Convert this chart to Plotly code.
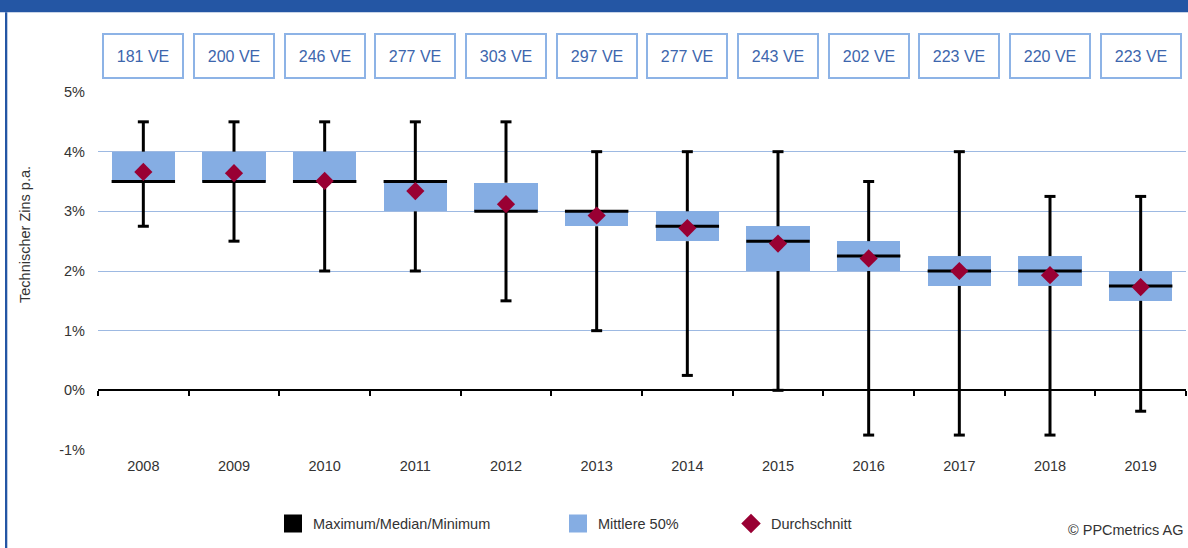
import plotly.graph_objects as go
import numpy as np

# ---------------- data ----------------
years = ["2008", "2009", "2010", "2011", "2012", "2013", "2014", "2015", "2016", "2017", "2018", "2019"]
n_ve = [181, 200, 246, 277, 303, 297, 277, 243, 202, 223, 220, 223]
maximum = [4.5, 4.5, 4.5, 4.5, 4.5, 4.0, 4.0, 4.0, 3.5, 4.0, 3.25, 3.25]
q3 = [4.0, 4.0, 4.0, 3.5, 3.48, 3.0, 3.0, 2.75, 2.5, 2.25, 2.25, 2.0]
median = [3.5, 3.5, 3.5, 3.5, 3.0, 3.0, 2.75, 2.5, 2.25, 2.0, 2.0, 1.75]
q1 = [3.5, 3.5, 3.5, 3.0, 3.0, 2.75, 2.5, 2.0, 2.0, 1.75, 1.75, 1.5]
minimum = [2.75, 2.5, 2.0, 2.0, 1.5, 1.0, 0.25, 0.0, -0.75, -0.75, -0.75, -0.35]
mean = [3.66, 3.64, 3.51, 3.34, 3.12, 2.93, 2.72, 2.46, 2.21, 2.0, 1.93, 1.73]
ytick_vals = [-1, 0, 1, 2, 3, 4, 5]
ytick_labels = ["-1%", "0%", "1%", "2%", "3%", "4%", "5%"]

# ---------------- style ----------------
W, H = 1188, 548
ML, MR, MT, MB = 98, 2, 92, 98
PW = W - ML - MR
PH = H - MT - MB
FONT = "Liberation Sans, Arial, sans-serif"
TXT = "#333333"
BOX = "#85ADE3"
DIAM = "#990033"
GRID = "#9DB9E2"
VE_BORDER = "#8DB3E6"
VE_TEXT = "#3D66AD"
BAR_BLUE = "#2456A4"
BOX_W = 0.7
LINE_EW_FACTOR = 1.4  # plotly draws line-ew markers 1.4 x size long


def px_x(px):
    return (px - ML) / PW


def px_y(py):
    return (H - MB - py) / PH


fig = go.Figure()

# middle 50 % boxes
fig.add_trace(go.Bar(
    x=years, y=[a - b for a, b in zip(q3, q1)], base=q1, width=BOX_W,
    marker=dict(color=BOX, line=dict(width=0)), showlegend=False, hoverinfo="skip"))

# whiskers (outside the box)
wx, wy = [], []
for yr, mx, hi, lo, mn in zip(years, maximum, q3, q1, minimum):
    wx += [yr, yr, None, yr, yr, None]
    wy += [hi, mx, None, lo, mn, None]
fig.add_trace(go.Scatter(x=wx, y=wy, mode="lines", line=dict(color="black", width=3),
                         showlegend=False, hoverinfo="skip"))

# whisker caps
fig.add_trace(go.Scatter(
    x=years + years, y=maximum + minimum, mode="markers",
    marker=dict(symbol="line-ew", size=11 / LINE_EW_FACTOR, line=dict(color="black", width=3)),
    showlegend=False, hoverinfo="skip"))

# medians
fig.add_trace(go.Scatter(
    x=years, y=median, mode="markers",
    marker=dict(symbol="line-ew", size=BOX_W * PW / len(years) / LINE_EW_FACTOR,
                line=dict(color="black", width=3)),
    showlegend=False, hoverinfo="skip"))

# means
fig.add_trace(go.Scatter(
    x=years, y=mean, mode="markers",
    marker=dict(symbol="diamond", size=14, color=DIAM, line=dict(width=0)),
    showlegend=False, hoverinfo="skip"))

# helper trace for boundary tick axis at 0
bounds = list(np.arange(len(years) + 1) - 0.5)
fig.add_trace(go.Scatter(x=[None], y=[None], xaxis="x2", yaxis="y", showlegend=False, hoverinfo="skip"))

# legend entries
fig.add_trace(go.Scatter(x=[None], y=[None], mode="markers", name="Maximum/Median/Minimum",
                         marker=dict(symbol="square", size=16, color="black", line=dict(color="black", width=2)),
                         legend="legend"))
fig.add_trace(go.Scatter(x=[None], y=[None], mode="markers", name="Mittlere 50%",
                         marker=dict(symbol="square", size=16, color=BOX, line=dict(color=BOX, width=2)),
                         legend="legend2"))
fig.add_trace(go.Scatter(x=[None], y=[None], mode="markers", name="Durchschnitt",
                         marker=dict(symbol="diamond", size=15, color=DIAM),
                         legend="legend3"))

annotations = []
for i, n in enumerate(n_ve):
    annotations.append(dict(
        x=i, xref="x", y=px_y(56.2), yref="paper", text=f"{n} VE", showarrow=False,
        width=78, height=42, borderwidth=2, borderpad=0, bordercolor=VE_BORDER, bgcolor="white",
        font=dict(family=FONT, size=16, color=VE_TEXT), xanchor="center", yanchor="middle"))

annotations.append(dict(
    x=px_x(25), y=px_y(235), xref="paper", yref="paper", text="Technischer Zins p.a.",
    textangle=-90, showarrow=False, font=dict(family=FONT, size=14.5, color=TXT),
    xanchor="center", yanchor="middle"))
annotations.append(dict(
    x=px_x(1066), y=px_y(530), xref="paper", yref="paper", text="© PPCmetrics AG",
    showarrow=False, font=dict(family=FONT, size=14.5, color=TXT),
    xanchor="left", yanchor="middle"))

shapes = [
    dict(type="rect", xref="paper", yref="paper", x0=px_x(0), x1=px_x(W), y0=px_y(12.3), y1=px_y(0),
         fillcolor=BAR_BLUE, line=dict(width=0), layer="above"),
    dict(type="rect", xref="paper", yref="paper", x0=px_x(5), x1=px_x(7.3), y0=px_y(H), y1=px_y(12.3),
         fillcolor=BAR_BLUE, line=dict(width=0), layer="above"),
]

leg_common = dict(orientation="h", xref="container", yref="container", xanchor="left", yanchor="middle",
                  font=dict(family=FONT, size=14.5, color=TXT), bgcolor="rgba(0,0,0,0)",
                  borderwidth=0, itemclick=False, itemdoubleclick=False)
ly = 1 - 523.5 / H

fig.update_layout(
    width=W, height=H,
    margin=dict(l=ML, r=MR, t=MT, b=MB, pad=0),
    paper_bgcolor="white", plot_bgcolor="white",
    font=dict(family=FONT, size=14.5, color=TXT),
    bargap=0,
    xaxis=dict(type="category", categoryorder="array", categoryarray=years, range=[-0.5, len(years) - 0.5],
               showgrid=False, zeroline=False, showline=False, ticks="", ticklabelstandoff=5,
               tickfont=dict(family=FONT, size=14.5, color=TXT), fixedrange=True),
    xaxis2=dict(overlaying="x", anchor="free", position=1 / 6, type="linear",
                range=[-0.5, len(years) - 0.5], tickvals=bounds, ticks="outside", ticklen=5,
                tickwidth=1.5, tickcolor="black", showline=True, linecolor="black", linewidth=2,
                showticklabels=False, showgrid=False, zeroline=False, fixedrange=True),
    yaxis=dict(range=[-1, 5], tickvals=ytick_vals, ticktext=ytick_labels, showgrid=True,
               gridcolor=GRID, gridwidth=1, zeroline=False, showline=False, ticks="",
               ticklabelstandoff=12, tickfont=dict(family=FONT, size=14.5, color=TXT), fixedrange=True),
    legend=dict(x=273 / W, y=ly, **leg_common),
    legend2=dict(x=558 / W, y=ly, **leg_common),
    legend3=dict(x=731 / W, y=ly, **leg_common),
    annotations=annotations,
    shapes=shapes,
)

fig.write_html("out.html", config=dict(displayModeBar=False),
               post_script="document.body.style.margin='0';document.body.style.overflow='hidden';")
